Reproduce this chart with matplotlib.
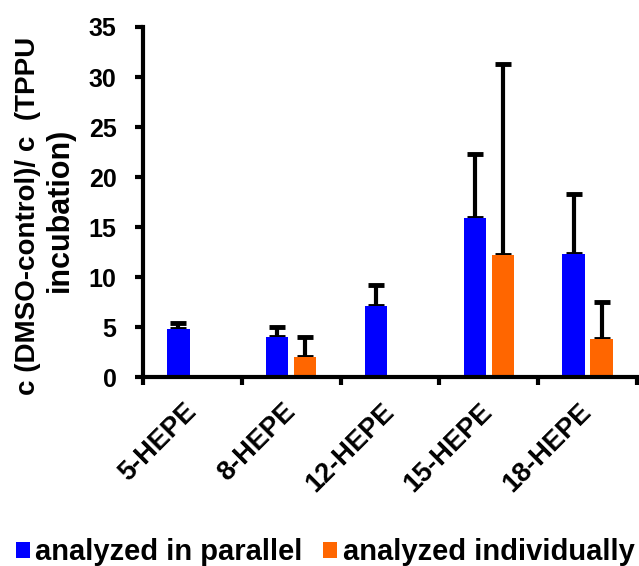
import numpy as np
import matplotlib.pyplot as plt
from matplotlib.patches import Patch

plt.rcParams['font.family'] = ['Liberation Sans', 'DejaVu Sans']
plt.rcParams['font.weight'] = 'bold'

# data
categories = ['5-HEPE', '8-HEPE', '12-HEPE', '15-HEPE', '18-HEPE']
parallel_mean = [4.85, 4.0, 7.15, 15.95, 12.3]
parallel_err = [0.55, 1.0, 2.05, 6.35, 6.0]
individual_mean = [0.0, 2.05, 0.0, 12.25, 3.8]
individual_err = [0.0, 1.95, 0.0, 19.05, 3.75]
series_labels = ['analyzed in parallel', 'analyzed individually']
colors = ['#0000FF', '#FF6600']
ylabel_lines = ['c (DMSO-control)/ c  (TPPU', 'incubation)']

fig = plt.figure(figsize=(6.39, 5.66), dpi=100)
ax = fig.add_axes([0.2238, 0.3339, 0.7731, 0.6184])

x = np.arange(len(categories))
width = 0.227
offset = 0.142

err_style = dict(ecolor='black', elinewidth=3.0, capsize=6, capthick=3.5)

ax.bar(x - offset, parallel_mean, width, color=colors[0], zorder=2)
ax.errorbar(x - offset, parallel_mean,
            yerr=[np.zeros(len(x)), parallel_err], fmt='none', zorder=1, **err_style)
ax.bar(x + offset, individual_mean, width, color=colors[1], zorder=2)
ax.errorbar(x + offset, individual_mean,
            yerr=[np.zeros(len(x)), individual_err], fmt='none', zorder=1, **err_style)

ax.set_xlim(-0.5, len(categories) - 0.5)
ax.set_ylim(0, 35)
ax.set_yticks(np.arange(0, 36, 5))

# group boundaries get the visible ticks, labels sit at group centres
ax.set_xticks(x)
ax.set_xticks(np.arange(-0.5, len(categories), 1.0), minor=True)
ax.set_xticklabels(categories, rotation=45, ha='right', va='center',
                   rotation_mode='anchor', fontsize=19.5, fontweight='bold')
ax.tick_params(axis='x', which='major', length=0, pad=22)
ax.tick_params(axis='x', which='minor', length=6, width=3, direction='out')
ax.tick_params(axis='y', length=6, width=3, direction='out', pad=13,
               labelsize=18)
for lab in ax.get_yticklabels():
    lab.set_fontweight('bold')

for side in ['top', 'right']:
    ax.spines[side].set_visible(False)
for side in ['left', 'bottom']:
    ax.spines[side].set_linewidth(3)

# y label as two rotated lines, second one a bit larger like the original
fig.text(28 / 639, 1 - 216 / 566, ylabel_lines[0], rotation=90,
         ha='center', va='center', fontsize=20, fontweight='bold')
fig.text(60 / 639, 1 - 210 / 566, ylabel_lines[1], rotation=90,
         ha='center', va='center', fontsize=22, fontweight='bold')

handles = [Patch(facecolor=c, edgecolor='none') for c in colors]
fig.legend(handles, series_labels, loc='center', bbox_to_anchor=(0.509, 0.0247),
           ncol=2, frameon=False, handlelength=0.48,
           handleheight=0.48, handletextpad=0.2, columnspacing=0.7,
           borderpad=0, borderaxespad=0,
           prop={'weight': 'bold', 'size': 21})

fig.savefig('out.png', dpi=100)
